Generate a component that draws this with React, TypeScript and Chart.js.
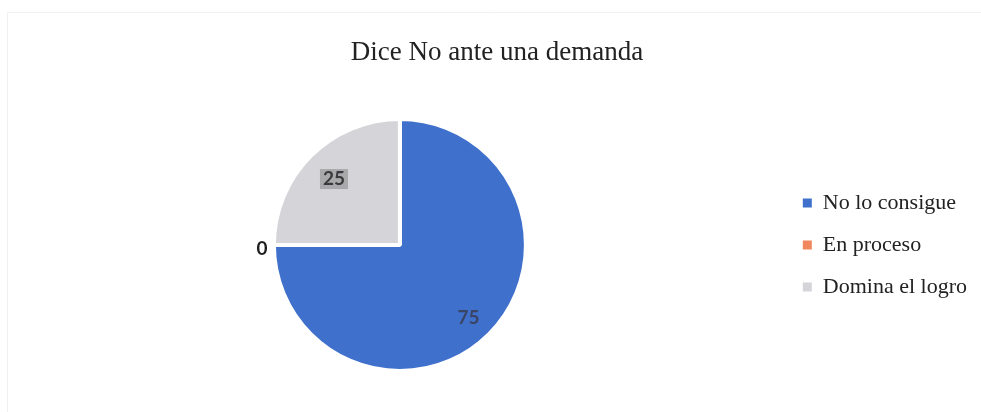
import React, { useEffect, useRef } from "react";
import { Chart, registerables } from "chart.js";

Chart.register(...registerables);

const title = "Dice No ante una demanda";
const categories = ["No lo consigue", "En proceso", "Domina el logro"];
const values = [75, 0, 25];
const colors = ["#3f70cc", "#f0875f", "#d5d5d9"];

const labelPlugin = {
  id: "sliceLabels",
  afterDatasetsDraw(chart: any) {
    const ctx = chart.ctx;
    const meta = chart.getDatasetMeta(0);
    const data = chart.data.datasets[0].data as number[];
    meta.data.forEach((arc: any, i: number) => {
      const p = arc.getProps(["x", "y", "startAngle", "endAngle", "outerRadius"], true);
      const mid = (p.startAngle + p.endAngle) / 2;
      const v = data[i];
      const dist = v === 0 ? p.outerRadius + 12 : p.outerRadius * (i === 0 ? 0.77 : 0.74);
      const x = p.x + Math.cos(mid) * dist;
      const y = p.y + Math.sin(mid) * dist + (v === 0 ? 4 : i === 0 ? 4 : 0);
      ctx.save();
      ctx.font = "bold 19px Lato, 'Open Sans', sans-serif";
      ctx.textAlign = "center";
      ctx.textBaseline = "middle";
      const txt = String(v);
      if (i === 2) {
        const w = ctx.measureText(txt).width + 6;
        ctx.fillStyle = "#a9a9ab";
        ctx.fillRect(x - w / 2, y - 10, w, 20);
        ctx.fillStyle = "#3a3a3c";
      } else if (v === 0) {
        ctx.fillStyle = "#1e1e1e";
      } else {
        ctx.fillStyle = "#3a4566";
      }
      ctx.fillText(txt, x, y);
      ctx.restore();
    });
  },
};

const framePlugin = {
  id: "frame",
  beforeDraw(chart: any) {
    const ctx = chart.ctx;
    ctx.save();
    ctx.strokeStyle = "#f0f0f0";
    ctx.lineWidth = 1;
    ctx.beginPath();
    ctx.moveTo(7.5, 412);
    ctx.lineTo(7.5, 12.5);
    ctx.lineTo(981, 12.5);
    ctx.stroke();
    ctx.restore();
  },
};

const baseGenerate = (Chart as any).overrides.pie.plugins.legend.labels.generateLabels;

export default function App() {
  const ref = useRef<HTMLCanvasElement | null>(null);
  useEffect(() => {
    document.body.style.margin = "0";
    if (!ref.current) return;
    const chart = new Chart(ref.current, {
      type: "pie",
      data: {
        labels: categories,
        datasets: [
          {
            data: values,
            backgroundColor: colors,
            borderColor: "#ffffff",
            borderWidth: 4,
          },
        ],
      },
      options: {
        animation: false,
        responsive: false,
        radius: 126,
        layout: { padding: { left: 17, right: 4, top: 0, bottom: 0 } },
        plugins: {
          title: {
            display: true,
            text: title,
            color: "#222222",
            font: { family: "'Liberation Serif', 'Times New Roman', serif", size: 27, weight: "normal" },
            padding: { top: 37, bottom: 8.6 },
          },
          legend: {
            position: "right",
            fullSize: false,
            labels: {
              boxWidth: 9,
              boxHeight: 9,
              padding: 20,
              color: "#222222",
              font: { family: "'Liberation Serif', 'Times New Roman', serif", size: 22 },
              generateLabels: (c: any) =>
                baseGenerate(c).map((l: any) => ({ ...l, lineWidth: 0, strokeStyle: l.fillStyle })),
            },
          },
          tooltip: { enabled: false },
        },
      },
      plugins: [labelPlugin, framePlugin],
    });
    return () => chart.destroy();
  }, []);
  return <canvas ref={ref} width={981} height={412} style={{ display: "block" }} />;
}
